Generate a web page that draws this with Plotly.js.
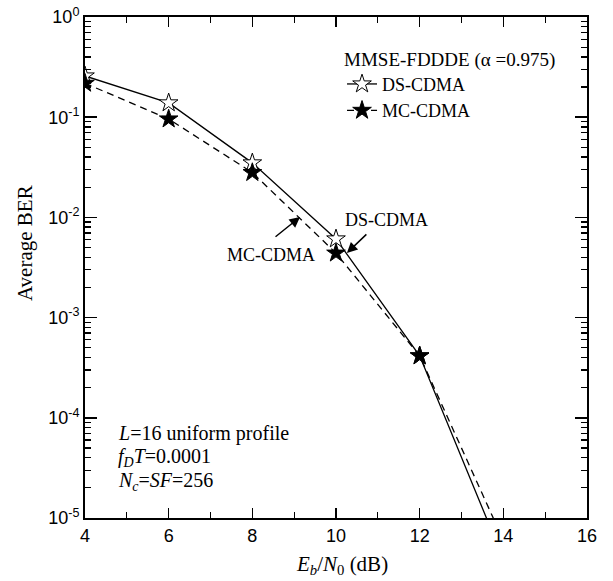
<!DOCTYPE html>
<html><head><meta charset="utf-8">
<script src="https://cdn.plot.ly/plotly-3.0.1.min.js"></script>
<style>html,body{margin:0;padding:0;background:#fff}#c{width:613px;height:581px}</style>
</head><body><div id="c"></div>
<script>
const ebn0 = [4, 6, 8, 10, 12, 14];
const dsBer = [0.258, 0.139, 0.035, 0.0061, 4.15e-4, 3.9e-6];
const mcBer = [0.218, 0.096, 0.028, 0.0044, 4.15e-4, 6.0e-6];
const seriesNames = ['DS-CDMA', 'MC-CDMA'];
const legendTitle = 'MMSE-FDDDE (\u03b1 =0.975)';
const yTickVals = [1, 0.1, 0.01, 0.001, 0.0001, 0.00001];
const yTickText = ['10<sup>0</sup>', '10<sup>-1</sup>', '10<sup>-2</sup>', '10<sup>-3</sup>', '10<sup>-4</sup>', '10<sup>-5</sup>'];
const xTickVals = [4, 6, 8, 10, 12, 14, 16];
const xMinorVals = [5, 7, 9, 11, 13, 15];

// minor log ticks 2..9 per decade (axis furniture, not data)
const yMinorVals = [];
for (let d = -5; d < 0; d++) for (let m = 2; m <= 9; m++) yMinorVals.push(m * Math.pow(10, d));

const serif = 'Liberation Serif, Times New Roman, serif';
const sans = 'Liberation Sans, Arial, sans-serif';
const PW = 502, PH = 501;

const traces = [
  {x: ebn0, y: dsBer, name: seriesNames[0], mode: 'lines+markers', type: 'scatter',
   line: {color: 'black', width: 1.3, dash: 'solid'},
   marker: {symbol: 'star', size: 14, color: 'white', line: {color: 'black', width: 1}}},
  {x: ebn0, y: mcBer, name: seriesNames[1], mode: 'lines+markers', type: 'scatter',
   line: {color: 'black', width: 1.3, dash: '7px,5px'},
   marker: {symbol: 'star', size: 14, color: 'black', line: {color: 'black', width: 1}}}
];

const ann = (x, y, text, size, extra) => Object.assign({x: x, y: y, xref: 'paper', yref: 'paper', text: text, showarrow: false,
  xanchor: 'center', yanchor: 'middle', font: {family: serif, size: size, color: 'black'}}, extra || {});

const layout = {
  width: 613, height: 581,
  margin: {l: 85, r: 26, t: 17, b: 63},
  paper_bgcolor: 'white', plot_bgcolor: 'white',
  showlegend: true,
  legend: {x: 0.512, y: 0.952, xanchor: 'left', yanchor: 'top', bgcolor: 'rgba(0,0,0,0)',
    font: {family: serif, size: 18, color: 'black'},
    title: {text: legendTitle, font: {family: serif, size: 19, color: 'black'}},
    tracegroupgap: 0, itemwidth: 30},
  xaxis: {range: [4, 16], tickmode: 'array', tickvals: xTickVals, ticks: 'inside', ticklen: 10, tickwidth: 1.6, tickcolor: 'black',
    showline: true, linecolor: 'black', linewidth: 2, mirror: 'ticks', showgrid: false, zeroline: false,
    minor: {tickmode: 'array', tickvals: xMinorVals, ticks: 'inside', ticklen: 6, tickwidth: 1.3, tickcolor: 'black', showgrid: false},
    tickfont: {family: sans, size: 18, color: 'black'}},
  yaxis: {type: 'log', range: [-5, 0], tickmode: 'array', tickvals: yTickVals, ticktext: yTickText, ticks: 'inside', ticklen: 12, tickwidth: 1.6, tickcolor: 'black',
    showline: true, linecolor: 'black', linewidth: 2, mirror: 'ticks', showgrid: false, zeroline: false,
    minor: {tickmode: 'array', tickvals: yMinorVals, ticks: 'inside', ticklen: 6, tickwidth: 1.3, tickcolor: 'black', showgrid: false},
    tickfont: {family: sans, size: 18, color: 'black'}},
  annotations: [
    ann((25 - 85) / PW, (518 - 243) / PH, 'Average BER', 21, {textangle: -90}),
    ann((342 - 85) / PW, (518 - 565) / PH, '<i>E</i><sub><i>b</i></sub>/<i>N</i><sub>0</sub> (dB)', 21),
    {x: 10.26, y: -2.355, xref: 'x', yref: 'y', text: '', showarrow: true, ax: 21, ay: -20,
     arrowhead: 2, arrowsize: 1.4, arrowwidth: 1.5, arrowcolor: 'black', standoff: 0},
    {x: 9.14, y: -1.996, xref: 'x', yref: 'y', text: '', showarrow: true, ax: -26, ay: 21,
     arrowhead: 2, arrowsize: 1.4, arrowwidth: 1.5, arrowcolor: 'black', standoff: 0},
    ann((386 - 85) / PW, (518 - 220) / PH, 'DS-CDMA', 18),
    ann((271 - 85) / PW, (518 - 255) / PH, 'MC-CDMA', 18),
    ann((116 - 85) / PW, (518 - 433) / PH, '<i>L</i>=16 uniform profile', 20, {xanchor: 'left'}),
    ann((116 - 85) / PW, (518 - 457) / PH, '<i>f</i><sub><i>D</i></sub><i>T</i>=0.0001', 20, {xanchor: 'left'}),
    ann((116 - 85) / PW, (518 - 481) / PH, '<i>N</i><sub><i>c</i></sub>=<i>SF</i>=256', 20, {xanchor: 'left'})
  ]
};

Plotly.newPlot('c', traces, layout, {displayModeBar: false, staticPlot: true});
</script></body></html>
